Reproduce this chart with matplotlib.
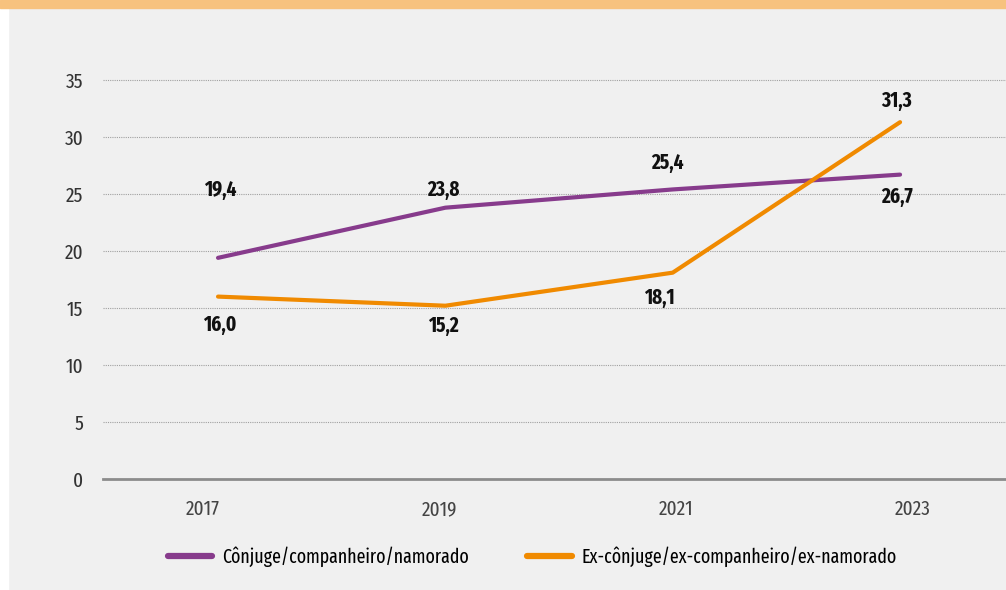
import matplotlib.pyplot as plt
from matplotlib.patches import Rectangle

# dados
anos = ["2017", "2019", "2021", "2023"]
conjuge = [19.4, 23.8, 25.4, 26.7]
ex_conjuge = [16.0, 15.2, 18.1, 31.3]
nome_conjuge = "Cônjuge/companheiro/namorado"
nome_ex = "Ex-cônjuge/ex-companheiro/ex-namorado"
yticks = [0, 5, 10, 15, 20, 25, 30, 35]

# deslocamento dos rótulos (pontos)
off_conjuge = [(1.4, 48.8), (-1.4, 12.7), (-3.6, 19), (-2.2, -16.1)]
off_ex = [(1.4, -20.4), (-1.4, -14.6), (-9.4, -18.2), (-2.2, 15.3)]

roxo = "#873b8c"
laranja = "#f08a00"
fundo = "#f0f0f0"

plt.rcParams["font.family"] = ["Fira Sans Extra Condensed", "DejaVu Sans"]

fig = plt.figure(figsize=(10.06, 5.9), dpi=100, facecolor=fundo)
# faixa branca à esquerda e barra laranja no topo
fig.patches.append(Rectangle((0, 0), 8 / 1006, 1, transform=fig.transFigure,
                             color="white", zorder=0))
fig.patches.append(Rectangle((0, 1 - 8 / 590), 1, 8 / 590, transform=fig.transFigure,
                             color="#f7c27e", zorder=1))

ax = fig.add_axes([103 / 1006, (590 - 479) / 590, (1006 - 103) / 1006, (479 - 60) / 590])
ax.set_facecolor(fundo)

x = list(range(len(anos)))
ax.plot(x, conjuge, color=roxo, lw=3.0, solid_capstyle="round", label=nome_conjuge, zorder=3)
ax.plot(x, ex_conjuge, color=laranja, lw=3.0, solid_capstyle="round", label=nome_ex, zorder=3)

for serie, offs in [(conjuge, off_conjuge), (ex_conjuge, off_ex)]:
    for xi, v, off in zip(x, serie, offs):
        ax.annotate(f"{v:.1f}".replace(".", ","), (xi, v), xytext=off, textcoords="offset points",
                    ha="center", va="center", fontsize=15, fontweight="bold", color="#111111")

ax.set_xlim(-0.506, 3.466)
ax.set_ylim(0, 35 * (479 - 60) / 399)
ax.set_yticks(yticks)
ax.set_yticklabels([str(t) for t in yticks], fontsize=15, color="#333333")
# rótulos dos anos um pouco mais espaçados que os pontos
ax.set_xticks([-0.066 + 1.04 * i for i in x])
ax.set_xticklabels(anos, fontsize=15, color="#444444")
ax.tick_params(axis="y", length=0, pad=14)
ax.tick_params(axis="x", length=0, pad=15)

for t in yticks[1:]:
    ax.axhline(t, color="#a0a0a0", lw=0.8, ls=(0, (1, 1)), zorder=1)

for s in ["top", "right", "left"]:
    ax.spines[s].set_visible(False)
ax.spines["bottom"].set_color("#8c8c8c")
ax.spines["bottom"].set_linewidth(2)

leg = fig.legend(loc="center", bbox_to_anchor=(0.529, (590 - 557) / 590), ncol=2,
                 frameon=False, fontsize=14, handlelength=2.3, columnspacing=3.0,
                 handletextpad=0.5)
for h in leg.get_lines():
    h.set_linewidth(4.5)

fig.savefig("out.png", dpi=100, facecolor=fundo)
